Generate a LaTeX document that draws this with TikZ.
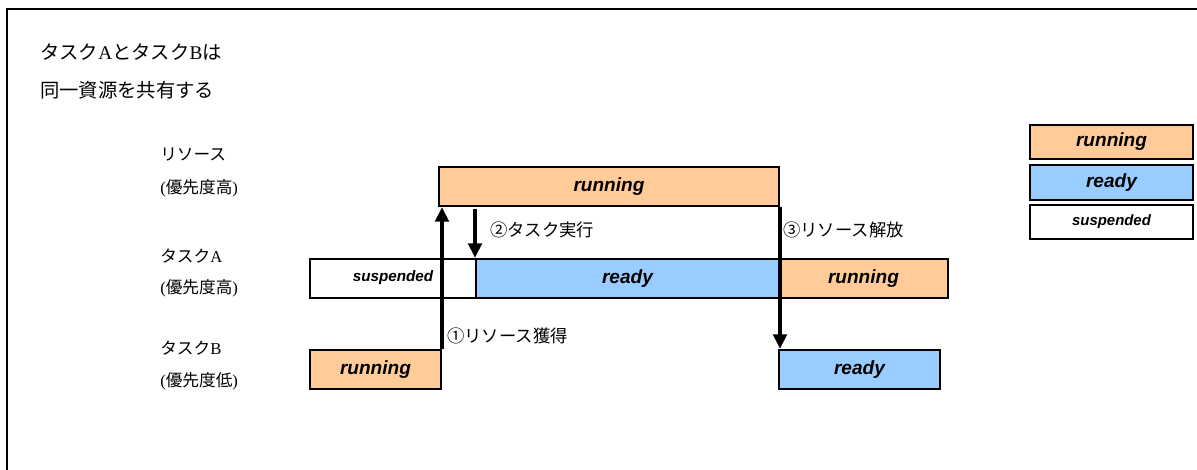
\documentclass[tikz,border=0pt]{standalone}
\usepackage{fontspec}
\usepackage{xcolor}
\usepackage{tikz}
\usetikzlibrary{arrows.meta}
\setmainfont{Liberation Serif}
\newfontfamily\jp{Noto Sans CJK JP}
\newfontfamily\stfont{Liberation Sans}
\definecolor{runcol}{HTML}{FFCC99}
\definecolor{rdycol}{HTML}{99CCFF}

\begin{document}
\begin{tikzpicture}[x=0.75pt,y=-0.75pt,
  zustand/.style={draw,line width=1.5pt,anchor=north west,inner sep=0pt,
    minimum height=29.25pt,font=\stfont\bfseries\itshape\fontsize{14.3}{16}\selectfont},
  laufend/.style={zustand,fill=runcol},
  bereit/.style={zustand,fill=rdycol},
  wartend/.style={zustand,fill=white},
  kopf/.style={anchor=west,inner sep=0pt,font=\fontsize{14.5}{17}\selectfont},
  zeile/.style={anchor=west,inner sep=0pt,font=\fontsize{12.5}{15}\selectfont},
  schritt/.style={anchor=west,inner sep=0pt,font=\jp\fontsize{13}{15}\selectfont},
  pfeil/.style={line width=2.8pt,-{Triangle[width=10pt,length=11pt]}}
]
  \useasboundingbox (0,0) rectangle (1197,470);
  \draw[line width=2pt] (7,470) -- (7,9) -- (1197,9);

  % Beschreibung
  \node[kopf] (t1) at (40,52) {{\jp タスク}A{\jp と}{\jp タスク}B{\jp は}};
  \node[kopf] (t2) at (40,90) {\jp 同一資源を共有する};

  % Zeilenbeschriftung
  \node[zeile] (lr1) at (160,155) {\jp リソース};
  \node[zeile] (lr2) at (160,188) {(\jp 優先度高\rmfamily)};
  \node[zeile] (la1) at (160,256) {{\jp タスク}A};
  \node[zeile] (la2) at (160,288) {(\jp 優先度高\rmfamily)};
  \node[zeile] (lb1) at (160,348) {{\jp タスク}B};
  \node[zeile] (lb2) at (160,381) {(\jp 優先度低\rmfamily)};

  % Zustaende
  \node[laufend,minimum width=255pt] (res) at (438,166) {running};
  \node[wartend,minimum width=124.5pt] (asus) at (309,258) {};
  \node[font=\stfont\bfseries\itshape\fontsize{11.4}{13}\selectfont,inner sep=0pt]
    (asustxt) at (393,278) {suspended};
  \node[bereit,minimum width=227.25pt] (ardy) at (475,258) {ready};
  \node[laufend,minimum width=126.75pt] (arun) at (778,258) {running};
  \node[laufend,minimum width=98.25pt] (brun) at (309,349) {running};
  \node[bereit,minimum width=120.75pt] (brdy) at (778,349) {ready};

  % Legende
  \node[laufend,minimum width=122.25pt,minimum height=25.5pt] (lgrun) at (1029,124) {running};
  \node[bereit,minimum width=122.25pt,minimum height=26.25pt] (lgrdy) at (1029,164) {ready};
  \node[wartend,minimum width=122.25pt,minimum height=25.5pt,
    font=\stfont\bfseries\itshape\fontsize{11.2}{13}\selectfont] (lgsus) at (1029,204) {suspended};

  % Uebergaenge
  \draw[pfeil] (brun.north east) -- (brun.north east |- res.south);
  \draw[pfeil] ([yshift=-1.5pt]ardy.north west |- res.south) -- (ardy.north west);
  \draw[pfeil] (res.south east) -- (res.south east |- brdy.north);

  \node[schritt] (s1) at (447,336) {①リソース獲得};
  \node[schritt] (s2) at (490,230) {②タスク実行};
  \node[schritt] (s3) at (783,230) {③リソース解放};
\end{tikzpicture}
\end{document}
